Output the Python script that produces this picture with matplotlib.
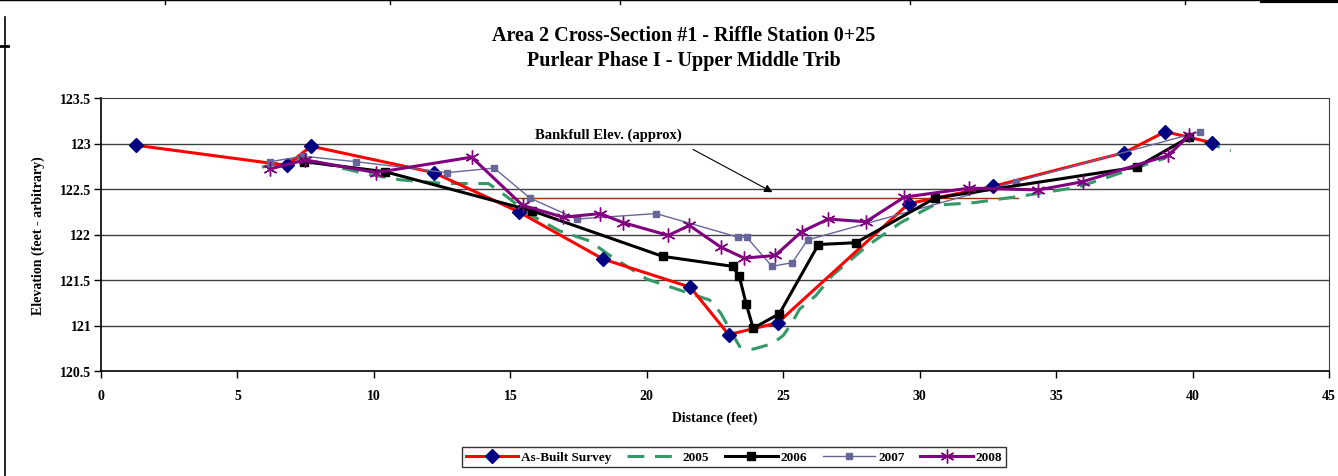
import numpy as np
import matplotlib.pyplot as plt
from matplotlib.lines import Line2D

plt.rcParams['font.family'] = ['Liberation Serif', 'DejaVu Serif']
plt.rcParams['font.weight'] = 'bold'

# As-Built Survey
asb_x = [1.3, 6.8, 7.7, 12.2, 15.3, 18.4, 21.6, 23.0, 24.8, 29.6, 32.7, 37.5, 39.0, 40.7]
asb_y = [122.98, 122.76, 122.97, 122.68, 122.25, 121.73, 121.42, 120.90, 121.03, 122.34, 122.53, 122.90, 123.13, 123.01]

# 2005
y05_x = [5.9, 7.3, 9.8, 11.0, 12.6, 14.2, 14.9, 15.6, 16.8, 17.9, 18.6, 20.0, 21.6, 22.3, 22.7,
         23.4, 23.9, 24.6, 25.0, 25.3, 25.6, 26.2, 26.8, 28.1, 29.3, 30.5, 32.0, 33.9, 35.8,
         37.8, 39.0, 39.8, 40.3, 41.4]
y05_y = [122.74, 122.84, 122.66, 122.60, 122.56, 122.56, 122.41, 122.24, 122.04, 121.93, 121.78,
         121.51, 121.35, 121.28, 121.14, 120.77, 120.74, 120.80, 120.89, 121.02, 121.18, 121.33,
         121.55, 121.88, 122.13, 122.32, 122.35, 122.43, 122.52, 122.72, 122.84, 123.07, 123.03,
         122.92]

# 2006
y06_x = [7.44, 10.41, 15.8, 20.58, 23.15, 23.39, 23.64, 23.9, 24.86, 26.29, 27.67, 30.56, 37.95, 39.88]
y06_y = [122.80, 122.69, 122.26, 121.76, 121.65, 121.54, 121.24, 120.97, 121.13, 121.89, 121.91,
         122.40, 122.74, 123.07]

# 2007
y07_x = [6.19, 7.41, 9.34, 12.69, 14.41, 15.72, 17.43, 20.34, 23.35, 23.66, 24.59, 25.33, 25.89,
         33.54, 40.28]
y07_y = [122.80, 122.86, 122.80, 122.68, 122.73, 122.40, 122.17, 122.23, 121.97, 121.97, 121.65,
         121.69, 121.94, 122.58, 123.13]

# 2008
y08_x = [6.19, 7.48, 10.08, 13.58, 15.45, 16.94, 18.29, 19.14, 20.79, 21.56, 22.72, 23.57, 24.71,
         25.67, 26.65, 28.03, 29.43, 31.82, 34.35, 35.97, 39.11, 39.88]
y08_y = [122.72, 122.82, 122.68, 122.85, 122.32, 122.19, 122.23, 122.13, 121.99, 122.10, 121.86,
         121.74, 121.77, 122.03, 122.17, 122.14, 122.41, 122.51, 122.49, 122.58, 122.87, 123.09]

bankfull_x = [14.9, 33.6]
bankfull_y = [122.40, 122.40]

fig = plt.figure(figsize=(13.38, 4.77), dpi=100)
ax = fig.add_axes([101 / 1338, 1 - 372 / 477, (1329 - 101) / 1338, (372 - 99) / 477])

for yv in np.arange(121.0, 123.5, 0.5):
    ax.axhline(yv, color='#404040', lw=1.0, zorder=0)

ax.plot(bankfull_x, bankfull_y, color='#993300', lw=1.0, zorder=1)

star = (6, 2, 0)
ax.plot(asb_x, asb_y, color='#FF0000', lw=2.2, marker='D', ms=7, mfc='#000080', mec='#000080',
        label='As-Built Survey', zorder=3)
ax.plot(y05_x, y05_y, color='#339966', lw=2.2, dashes=(5.5, 3.5), label='2005', zorder=2)
ax.plot(y06_x, y06_y, color='#000000', lw=2.2, marker='s', ms=6, label='2006', zorder=4)
ax.plot(y07_x, y07_y, color='#666699', lw=1.0, marker='s', ms=4.5, label='2007', zorder=3)
ax.plot(y08_x, y08_y, color='#800080', lw=2.2, marker=star, ms=10, mew=1.0, label='2008', zorder=5)

ax.annotate('', xy=(24.7, 122.45), xytext=(21.6, 122.95),
            arrowprops=dict(arrowstyle='-|>', color='black', lw=0.8, mutation_scale=12))
ax.text(18.6, 123.1, 'Bankfull Elev. (approx)', ha='center', va='center', fontsize=10.5,
        fontweight='bold')

ax.set_xlim(0, 45)
ax.set_ylim(120.5, 123.5)
ax.set_xticks(range(0, 50, 5))
ax.set_yticks([120.5, 121, 121.5, 122, 122.5, 123, 123.5])
ax.set_yticklabels(['120.5', '121', '121.5', '122', '122.5', '123', '123.5'])
ax.tick_params(axis='both', direction='out', length=5, width=1, labelsize=10)
ax.tick_params(axis='x', pad=8)
ax.tick_params(axis='y', pad=2)
for lab in ax.get_xticklabels() + ax.get_yticklabels():
    lab.set_fontweight('bold')
for s in ['left', 'bottom']:
    ax.spines[s].set_linewidth(1.2)
ax.spines['top'].set_color('#404040')
ax.spines['right'].set_color('#404040')

ax.set_xlabel('Distance (feet)', fontsize=10, fontweight='bold', labelpad=6)
ax.set_ylabel('Elevation (feet - arbitrary)', fontsize=10, fontweight='bold', labelpad=11)

fig.text(0.5 * (487 + 880) / 1338, 1 - 36 / 477, 'Area 2 Cross-Section #1 - Riffle Station 0+25',
         ha='center', va='center', fontsize=14.5, fontweight='bold')
fig.text(0.5 * (487 + 880) / 1338, 1 - 61 / 477, 'Purlear Phase I - Upper Middle Trib',
         ha='center', va='center', fontsize=14.5, fontweight='bold')

leg = fig.legend(loc='center', bbox_to_anchor=(734 / 1338, 1 - 458 / 477), ncol=5, frameon=True,
                 fancybox=False, edgecolor='black', handlelength=4,
                 columnspacing=1.2, borderpad=0.3, handletextpad=0.2,
                 prop={'weight': 'bold', 'size': 9.5})
leg.get_frame().set_linewidth(1.0)

# outer frame remnants of the sheet
fig.add_artist(Line2D([0, 1262 / 1338], [0.998, 0.998], color='black', lw=1.0))
fig.add_artist(Line2D([1262 / 1338, 1], [0.996, 0.996], color='black', lw=3.0))
for xp in [165, 390, 620, 910, 1185]:
    fig.add_artist(Line2D([xp / 1338, xp / 1338], [1, 1 - 5 / 477], color='black', lw=1.0))
fig.add_artist(Line2D([5 / 1338, 5 / 1338], [0, 1 - 18 / 477], color='black', lw=1.2))
fig.add_artist(Line2D([0, 8 / 1338], [1 - 47 / 477, 1 - 47 / 477], color='black', lw=2.0))

plt.savefig('out.png', dpi=100)
